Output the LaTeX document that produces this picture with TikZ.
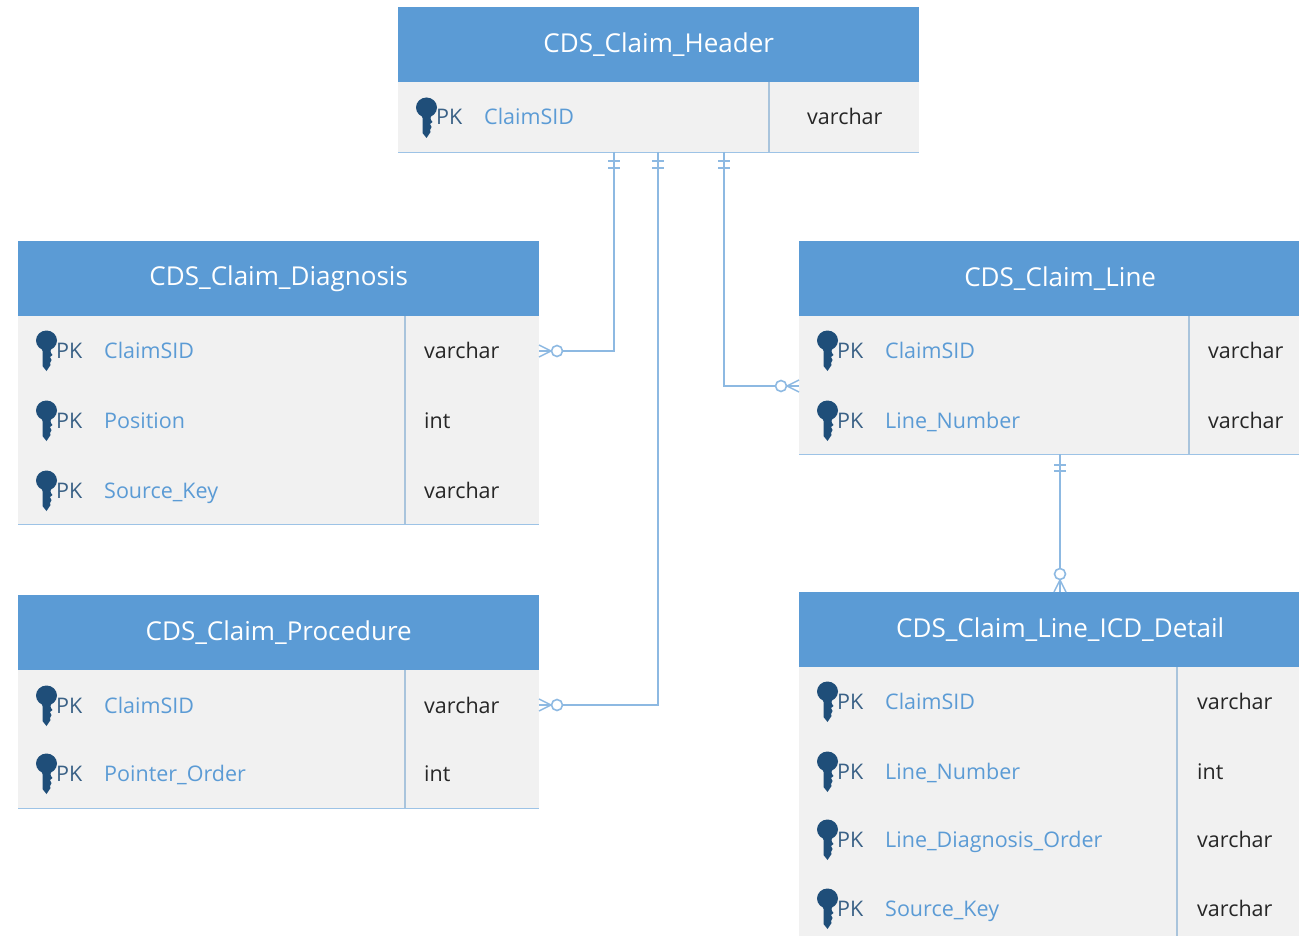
\documentclass[tikz,border=0pt]{standalone}
\usepackage{fontspec}
\setmainfont{Open Sans}
\definecolor{hdr}{HTML}{5B9BD5}
\definecolor{bodyc}{HTML}{F1F1F1}
\definecolor{linec}{HTML}{9DC3E6}
\definecolor{keyc}{HTML}{1F4E79}
\definecolor{divc}{HTML}{A9C4DC}
\definecolor{conn}{HTML}{8DB9E2}
\definecolor{pkc}{HTML}{3A6186}
\tikzset{
  x=1pt,y=-1pt,
  headbox/.style={fill=hdr,text=white,font=\fontsize{26}{30}\selectfont,inner sep=0pt,anchor=north west},
  bodybox/.style={fill=bodyc,inner sep=0pt,anchor=north west},
  edgeline/.style={draw=linec,line width=1.6pt},
  divline/.style={draw=divc,line width=1.8pt},
  pktext/.style={text=pkc,font=\fontsize{21.5}{25}\selectfont,anchor=base west,inner sep=0pt},
  nametext/.style={text=hdr,font=\fontsize{21.5}{25}\selectfont,anchor=base west,inner sep=0pt},
  typetext/.style={text=black!85,font=\fontsize{21.5}{25}\selectfont,anchor=base west,inner sep=0pt},
  connector/.style={draw=conn,line width=1.6pt},
}
\newcommand{\headtext}[1]{\raisebox{-1.5pt}{#1}}
% #1 x of key, #2 y centre of row, #3 name x, #4 type x, #5 name, #6 type
\newcommand{\keyrow}[6]{%
  \fill[keyc] (#1+10.5,#2-9.5) circle[x radius=10.5pt,y radius=10pt];
  \fill[keyc] (#1+4,#2-6) -- (#1+17,#2-6) -- (#1+14.5,#2+1) -- (#1+15,#2+3) -- (#1+16.5,#2+5) -- (#1+14,#2+7) -- (#1+15.5,#2+10) -- (#1+14,#2+13) -- (#1+14.5,#2+15) -- (#1+10.5,#2+21) -- (#1+6.5,#2+16) -- (#1+6.5,#2+1) -- cycle;
  \node[pktext] at (#1+20,#2+8) {PK};
  \node[nametext] at (#3,#2+8) {#5};
  \node[typetext] at (#4,#2+8) {#6};
}
% crow's foot plus ring; edge point (#1,#2), direction (#3,#4)
\newcommand{\crowfoot}[4]{%
  \draw[connector,line width=1.5pt] (#1-#4*6,#2-#3*6) -- (#1+#3*12,#2+#4*12) -- (#1+#4*6,#2+#3*6);
  \draw[connector,line width=1.6pt,fill=white] (#1+#3*18,#2+#4*18) circle[radius=5.5pt];
}
% two bars across a vertical line: x, first y, spacing
\newcommand{\onebar}[3]{%
  \draw[connector,line width=1.3pt] (#1-6,#2) -- (#1+6,#2) (#1-6,#2+#3) -- (#1+6,#2+#3);
}
\begin{document}
\begin{tikzpicture}
\useasboundingbox (0,0) rectangle (1299,936);
\clip (0,0) rectangle (1299,936);

% Header table
\node[bodybox,minimum width=521pt,minimum height=70pt] (hb) at (398,82) {};
\node[headbox,minimum width=521pt,minimum height=75pt] (hh) at (398,7) {\headtext{CDS\_Claim\_Header}};
\draw[edgeline] (hb.south west) -- (hb.south east);
\draw[divline] (769,82) -- (769,152);
\keyrow{416}{117}{484}{807}{ClaimSID}{varchar}

% Diagnosis
\node[bodybox,minimum width=521pt,minimum height=208pt] (db) at (18,316) {};
\node[headbox,minimum width=521pt,minimum height=75pt] (dh) at (18,241) {\headtext{CDS\_Claim\_Diagnosis}};
\draw[edgeline] (db.south west) -- (db.south east);
\draw[divline] (405,316) -- (405,524);
\keyrow{36}{350}{104}{424}{ClaimSID}{varchar}
\keyrow{36}{420}{104}{424}{Position}{int}
\keyrow{36}{490}{104}{424}{Source\_Key}{varchar}

% Procedure
\node[bodybox,minimum width=521pt,minimum height=138pt] (pb) at (18,670) {};
\node[headbox,minimum width=521pt,minimum height=75pt] (ph) at (18,595) {\headtext{CDS\_Claim\_Procedure}};
\draw[edgeline] (pb.south west) -- (pb.south east);
\draw[divline] (405,670) -- (405,808);
\keyrow{36}{705}{104}{424}{ClaimSID}{varchar}
\keyrow{36}{773}{104}{424}{Pointer\_Order}{int}

% Line
\node[bodybox,minimum width=522pt,minimum height=138pt] (lb) at (799,316) {};
\node[headbox,minimum width=522pt,minimum height=75pt] (lh) at (799,241) {\headtext{CDS\_Claim\_Line}};
\draw[edgeline] (lb.south west) -- (lb.south east);
\draw[divline] (1189,316) -- (1189,454);
\keyrow{817}{350}{885}{1208}{ClaimSID}{varchar}
\keyrow{817}{420}{885}{1208}{Line\_Number}{varchar}

% ICD detail
\node[bodybox,minimum width=522pt,minimum height=290pt] (ib) at (799,667) {};
\node[headbox,minimum width=522pt,minimum height=75pt] (ih) at (799,592) {\headtext{CDS\_Claim\_Line\_ICD\_Detail}};
\draw[divline] (1177,667) -- (1177,940);
\keyrow{817}{701}{885}{1197}{ClaimSID}{varchar}
\keyrow{817}{771}{885}{1197}{Line\_Number}{int}
\keyrow{817}{839}{885}{1197}{Line\_Diagnosis\_Order}{varchar}
\keyrow{817}{908}{885}{1197}{Source\_Key}{varchar}

% Connector end points
\coordinate (h1) at (614,152);
\coordinate (h2) at (658,152);
\coordinate (h3) at (724,152);
\coordinate (d1) at (539,351);
\coordinate (p1) at (539,705);
\coordinate (l1) at (799,386);
\coordinate (l2) at (1060,454);
\coordinate (i1) at (1060,592);

\draw[connector] (h1) |- (d1);
\draw[connector] (h2) |- (p1);
\draw[connector] (h3) |- (l1);
\draw[connector] (l2) -- (i1);

\onebar{614}{161}{7}
\onebar{658}{161}{7}
\onebar{724}{161}{7}
\onebar{1060}{465}{6}
\crowfoot{539}{351}{1}{0}
\crowfoot{539}{705}{1}{0}
\crowfoot{799}{386}{-1}{0}
\crowfoot{1060}{592}{0}{-1}
\end{tikzpicture}
\end{document}
